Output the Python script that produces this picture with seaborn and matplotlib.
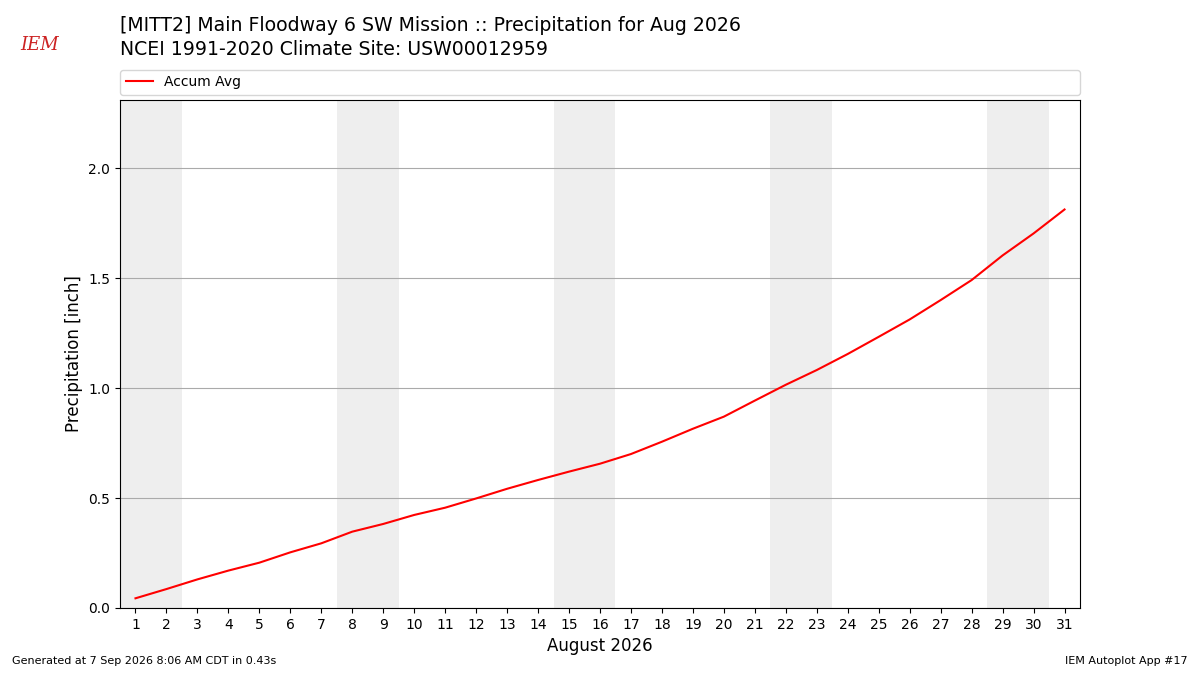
import matplotlib
matplotlib.use("Agg")
import matplotlib.pyplot as plt
import seaborn as sns
import pandas as pd

days = list(range(1, 32))
accum_avg = [0.044, 0.086, 0.130, 0.170, 0.206, 0.253, 0.294, 0.347, 0.382, 0.423,
             0.456, 0.498, 0.542, 0.582, 0.620, 0.656, 0.700, 0.756, 0.815, 0.870,
             0.943, 1.015, 1.082, 1.155, 1.233, 1.312, 1.400, 1.491, 1.603, 1.703,
             1.812]
# weekend start days (Sat) in Aug 2026
weekend_starts = [1, 8, 15, 22, 29]

df = pd.DataFrame({"day": days, "precip": accum_avg})

plt.rcParams["font.family"] = ["DejaVu Sans"]
fig = plt.figure(figsize=(12, 6.75), dpi=100)
ax = fig.add_axes([0.1, 0.0993, 0.8, 0.7526])

for d in weekend_starts:
    ax.axvspan(d - 0.5, d + 1.5, color="#eeeeee", zorder=0, lw=0)

sns.lineplot(data=df, x="day", y="precip", color="red", lw=1.5, label="Accum Avg", ax=ax)

ax.set_xlim(0.5, 31.5)
ax.set_ylim(0, 2.31)
ax.set_xticks(days)
ax.set_yticks([0, 0.5, 1.0, 1.5, 2.0])
ax.grid(True, axis="y", color="#aaaaaa", lw=0.8)
ax.grid(False, axis="x")
ax.set_axisbelow(True)
ax.set_xlabel("August 2026", fontsize=12)
ax.set_ylabel("Precipitation [inch]", fontsize=12)

ax.legend(loc="lower left", bbox_to_anchor=(0.0, 1.01, 1.0, 0.05), mode="expand",
          ncol=1, fontsize=10, borderaxespad=0, frameon=True)

fig.text(0.1, 0.962, "[MITT2] Main Floodway 6 SW Mission :: Precipitation for Aug 2026",
         fontsize=13.6, va="center", ha="left")
fig.text(0.1, 0.927, "NCEI 1991-2020 Climate Site: USW00012959",
         fontsize=13.6, va="center", ha="left")

fig.text(0.017, 0.933, "IEM", fontsize=13, color="#cc2222", family="serif",
         style="italic", va="center", ha="left")

fig.text(0.01, 0.014, "Generated at 7 Sep 2026 8:06 AM CDT in 0.43s", fontsize=8,
         ha="left", va="bottom")
fig.text(0.99, 0.014, "IEM Autoplot App #17", fontsize=8, ha="right", va="bottom")

fig.savefig("out.png", dpi=100)
